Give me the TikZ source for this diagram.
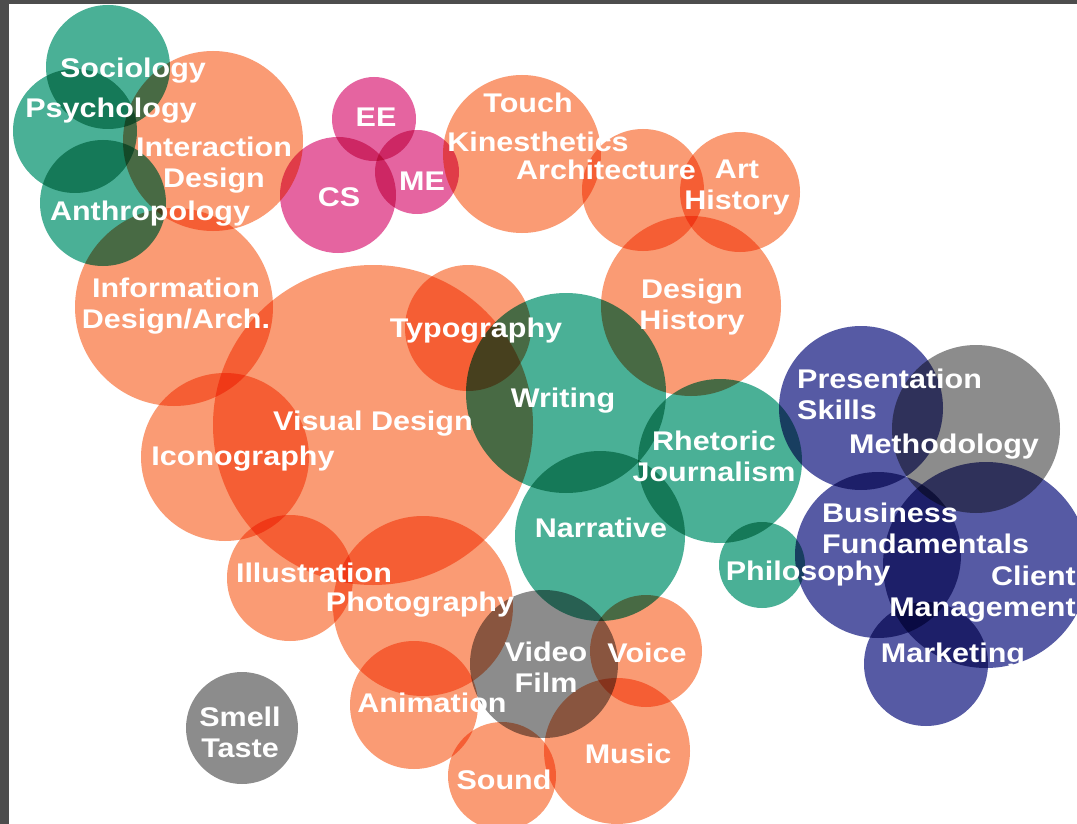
\documentclass[tikz,border=0pt]{standalone}
\usepackage{fontspec}
\setmainfont{Liberation Sans}[FakeStretch=1.13]
\usepackage{tikz}

\definecolor{bubOrange}{RGB}{250,155,116}
\definecolor{bubTeal}{RGB}{74,176,150}
\definecolor{bubPink}{RGB}{229,100,160}
\definecolor{bubNavy}{RGB}{86,90,164}
\definecolor{bubGray}{RGB}{140,140,140}
\definecolor{frameGray}{RGB}{77,77,77}

\tikzset{
  bub/.style={shape=circle, inner sep=0pt, outer sep=0pt},
  orangebub/.style={bub, fill=bubOrange},
  tealbub/.style={bub, fill=bubTeal},
  pinkbub/.style={bub, fill=bubPink},
  navybub/.style={bub, fill=bubNavy},
  graybub/.style={bub, fill=bubGray},
  lbl/.style={text=white, inner sep=0pt, font=\bfseries\fontsize{27}{31}\selectfont}
}

\begin{document}
\begin{tikzpicture}[x=1pt, y=-1pt]
    \useasboundingbox (0,0) rectangle (1077,824);
    \fill[frameGray] (0,0) rectangle (1077,824);
    \fill[white] (9,4) rectangle (1077,824);
    \begin{scope}
    \clip (9,4) rectangle (1077,824);
    \begin{scope}[blend group=multiply]
    % social sciences
    \node[tealbub, minimum size=124] at (108,67) (soc) {};
    \node[tealbub, minimum size=124] at (75,131) (psy) {};
    \node[tealbub, minimum size=126] at (103,203) (anth) {};
    % design
    \node[orangebub, minimum size=180] at (213,141) (intdes) {};
    \node[orangebub, minimum size=198] at (174,307) (infodes) {};
    \node[orangebub, minimum size=320] at (373,425) (visdes) {};
    \node[orangebub, minimum size=126] at (468,328) (typo) {};
    \node[orangebub, minimum size=168] at (225,457) (icon) {};
    \node[orangebub, minimum size=126] at (290,578) (illus) {};
    \node[orangebub, minimum size=180] at (423,606) (photo) {};
    \node[orangebub, minimum size=128] at (414,705) (anim) {};
    \node[orangebub, minimum size=108] at (502,776) (sound) {};
    \node[orangebub, minimum size=146] at (617,751) (music) {};
    \node[orangebub, minimum size=112] at (646,651) (voice) {};
    \node[orangebub, minimum size=158] at (522,154) (touch) {};
    \node[orangebub, minimum size=122] at (643,190) (arch) {};
    \node[orangebub, minimum size=120] at (740,192) (arthist) {};
    \node[orangebub, minimum size=180] at (691,306) (deshist) {};
    % engineering
    \node[pinkbub, minimum size=84] at (374,119) (ee) {};
    \node[pinkbub, minimum size=116] at (338,195) (cs) {};
    \node[pinkbub, minimum size=84] at (417,172) (me) {};
    % language
    \node[tealbub, minimum size=200] at (566,393) (writ) {};
    \node[tealbub, minimum size=170] at (600,536) (narr) {};
    \node[tealbub, minimum size=164] at (720,461) (rhet) {};
    \node[tealbub, minimum size=86] at (762,565) (phil) {};
    % gray ones
    \node[graybub, minimum size=148] at (544,664) (video) {};
    \node[graybub, minimum size=112] at (242,728) (smell) {};
    \node[graybub, minimum size=168] at (976,429) (method) {};
    % business
    \node[navybub, minimum size=164] at (861,408) (pres) {};
    \node[navybub, minimum size=166] at (878,555) (bus) {};
    \node[navybub, minimum size=206] at (986,565) (client) {};
    \node[navybub, minimum size=124] at (926,664) (mkt) {};
    \end{scope}
    \end{scope}

    % labels
    \node[lbl, anchor=base] at (133,78) (tsoc) {Sociology};
    \node[lbl, anchor=base] at (111,118) (tpsy) {Psychology};
    \node[lbl, align=center] at (214,165) (tintdes) {Interaction\\Design};
    \node[lbl, anchor=base] at (150,220) (tanth) {Anthropology};
    \node[lbl, anchor=base] at (376,127) (tee) {EE};
    \node[lbl, anchor=base] at (339,207) (tcs) {CS};
    \node[lbl, anchor=base] at (422,190) (tme) {ME};
    \node[lbl, anchor=base] at (528,113) (ttouch) {Touch};
    \node[lbl, anchor=base] at (538,152) (tkin) {Kinesthetics};
    \node[lbl, anchor=base] at (606,180) (tarch) {Architecture};
    \node[lbl, align=center] at (737,188) (tarthist) {Art\\History};
    \node[lbl, align=center] at (176,306) (tinfodes) {Information\\Design/Arch.};
    \node[lbl, align=center] at (692,307) (tdeshist) {Design\\History};
    \node[lbl, anchor=base] at (476,337) (ttypo) {Typography};
    \node[lbl, anchor=base] at (563,407) (twrit) {Writing};
    \node[lbl, anchor=base] at (373,430) (tvisdes) {Visual Design};
    \node[lbl, anchor=base] at (243,465) (ticon) {Iconography};
    \node[lbl, align=center] at (714,456) (trhet) {Rhetoric\\Journalism};
    \node[lbl, align=left, anchor=west] at (797,394) (tpres) {Presentation\\Skills};
    \node[lbl, anchor=base] at (944,453) (tmethod) {Methodology};
    \node[lbl, anchor=base] at (601,537) (tnarr) {Narrative};
    \node[lbl, align=left, anchor=west] at (822,528) (tbus) {Business\\Fundamentals};
    \node[lbl, anchor=base] at (808,580) (tphil) {Philosophy};
    \node[lbl, align=right, anchor=east] at (1076,594) (tclient) {Client\\Management};
    \node[lbl, anchor=base] at (314,582) (tillus) {Illustration};
    \node[lbl, anchor=base] at (420,611) (tphoto) {Photography};
    \node[lbl, align=center] at (546,667) (tvideo) {Video\\Film};
    \node[lbl, anchor=base] at (647,662) (tvoice) {Voice};
    \node[lbl, anchor=base] at (953,662) (tmkt) {Marketing};
    \node[lbl, anchor=base] at (432,712) (tanim) {Animation};
    \node[lbl, align=center] at (240,732) (tsmell) {Smell\\Taste};
    \node[lbl, anchor=base] at (628,763) (tmusic) {Music};
    \node[lbl, anchor=base] at (504,789) (tsound) {Sound};
\end{tikzpicture}
\end{document}
